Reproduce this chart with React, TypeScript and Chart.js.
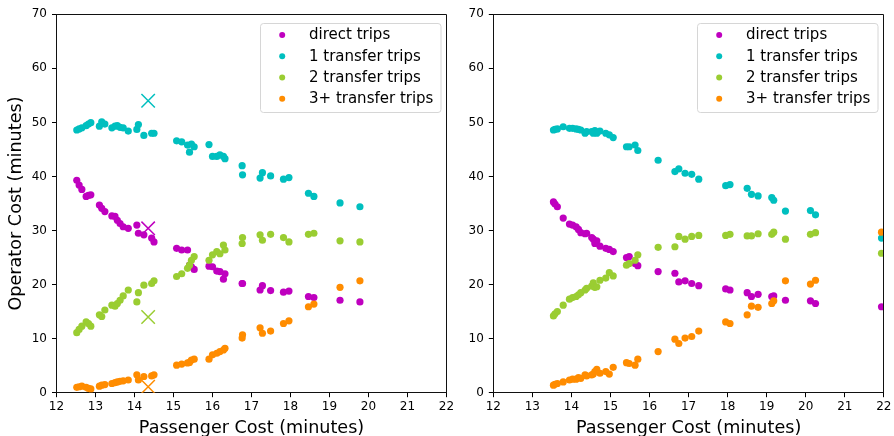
import React, { useEffect, useRef } from 'react';
import { Chart, registerables } from 'chart.js';

Chart.register(...registerables);
Chart.defaults.font.family = '"DejaVu Sans", sans-serif';

// ---------- data ----------
const SERIES_LABELS = ['direct trips', '1 transfer trips', '2 transfer trips', '3+ transfer trips'];
const SERIES_COLORS = ['#bf00bf', '#00bfbf', '#9acd32', '#ff8c00'];

const X_MIN = 12;
const X_MAX = 22;
const Y_MIN = 0;
const Y_MAX = 70;
const X_LABEL = 'Passenger Cost (minutes)';
const Y_LABEL = 'Operator Cost (minutes)';

// left panel
const leftPassenger = [
  12.52, 12.58, 12.65, 12.76, 12.82, 12.88, 13.10, 13.16, 13.24, 13.42,
  13.50, 13.56, 13.63, 13.71, 13.84, 14.06, 14.10, 14.24, 14.44, 14.50,
  15.08, 15.21, 15.36, 15.41, 15.46, 15.53, 15.91, 16.00, 16.11, 16.19,
  16.28, 16.32, 16.76, 16.77, 17.22, 17.28, 17.49, 17.82, 17.96, 18.46,
  18.60, 19.27, 19.78,
];
const leftDirect = [
  39.3, 38.4, 37.6, 36.3, 36.5, 36.6, 34.7, 34.1, 33.5, 32.7,
  32.6, 31.9, 31.3, 30.7, 30.4, 31.0, 29.5, 29.2, 28.6, 27.9,
  26.7, 26.4, 26.4, 23.6, 23.3, 22.8, 23.4, 23.3, 22.5, 22.4,
  21.0, 22.0, 20.2, 20.2, 19.0, 19.8, 18.9, 18.6, 18.8, 17.8,
  17.6, 17.1, 16.8,
];
const leftOne = [
  48.6, 48.8, 49.0, 49.4, 49.7, 49.95, 49.3, 50.1, 49.7, 49.0,
  49.3, 49.4, 49.1, 49.0, 48.4, 48.7, 49.6, 47.6, 48.0, 48.0,
  46.6, 46.4, 45.8, 44.5, 46.0, 45.5, 45.9, 43.7, 43.7, 44.0,
  43.7, 43.3, 42.0, 40.3, 39.7, 40.7, 40.1, 39.5, 39.8, 36.9,
  36.3, 35.1, 34.4,
];
const leftTwo = [
  11.1, 11.7, 12.3, 13.1, 12.8, 12.3, 14.4, 14.1, 15.3, 16.2,
  16.0, 16.5, 17.1, 17.9, 19.0, 16.8, 18.5, 19.9, 20.2, 20.7,
  21.5, 22.0, 23.0, 23.6, 24.5, 25.2, 24.5, 25.5, 26.1, 25.7,
  27.3, 26.4, 27.6, 28.7, 29.2, 28.2, 29.3, 28.7, 27.9, 29.3,
  29.5, 28.1, 27.9,
];
const leftThree = [
  1.0, 1.1, 1.2, 1.0, 0.8, 0.7, 1.2, 1.4, 1.5, 1.7,
  1.85, 2.0, 2.1, 2.2, 2.35, 3.3, 2.35, 3.0, 3.1, 3.3,
  5.1, 5.3, 5.5, 5.6, 6.05, 6.2, 6.2, 7.0, 7.3, 7.6,
  7.9, 8.2, 10.1, 10.7, 12.0, 11.0, 11.4, 12.8, 13.3, 15.9,
  16.4, 19.5, 20.7,
];
// highlighted solution (x markers) in the left panel
const leftMarkerPassenger = 14.35;
const leftMarkerValues = [30.4, 54.0, 14.0, 1.1];

// right panel
const rightPassenger = [
  13.54, 13.58, 13.64, 13.79, 13.95, 14.03, 14.12, 14.18, 14.24, 14.35,
  14.39, 14.52, 14.56, 14.60, 14.65, 14.73, 14.88, 14.97, 15.07, 15.41,
  15.48, 15.63, 15.70, 16.22, 16.65, 16.75, 16.91, 17.08, 17.26, 17.95,
  18.06, 18.50, 18.61, 18.78, 19.13, 19.18, 19.48, 20.12, 20.25, 21.94,
];
const rightDirect = [
  35.3, 34.9, 34.4, 32.3, 31.2, 31.0, 30.7, 30.2, 29.6, 29.4,
  29.5, 28.7, 28.4, 27.6, 28.1, 27.1, 26.7, 26.5, 26.1, 25.0,
  25.2, 23.9, 23.5, 22.4, 22.1, 20.5, 20.7, 20.2, 19.8, 19.2,
  19.0, 18.5, 17.8, 18.2, 17.8, 17.9, 17.1, 17.0, 16.5, 15.9,
];
const rightOne = [
  48.6, 48.7, 48.8, 49.2, 48.9, 48.9, 48.8, 48.7, 48.6, 48.0,
  48.3, 48.3, 48.0, 48.5, 48.0, 48.4, 48.0, 47.7, 47.2, 45.5,
  45.5, 45.8, 44.8, 43.0, 40.9, 41.4, 40.6, 40.4, 39.5, 38.3,
  38.5, 37.8, 36.7, 36.4, 36.1, 35.6, 33.6, 33.7, 32.9, 28.6,
];
const rightTwo = [
  14.2, 14.6, 15.0, 16.2, 17.3, 17.6, 17.8, 18.1, 18.5, 19.0,
  19.3, 19.7, 20.3, 19.5, 19.6, 20.8, 21.2, 22.2, 21.6, 23.6,
  23.9, 24.5, 25.5, 26.9, 27.0, 28.9, 28.4, 28.9, 29.1, 29.1,
  29.3, 29.0, 29.0, 29.4, 29.3, 29.7, 28.4, 29.3, 29.6, 25.8,
];
const rightThree = [
  1.4, 1.55, 1.7, 2.0, 2.35, 2.5, 2.5, 2.8, 2.65, 3.3,
  3.1, 3.3, 3.45, 3.9, 4.3, 3.6, 3.9, 3.45, 4.7, 5.55,
  5.4, 5.1, 6.2, 7.6, 9.9, 9.1, 10.1, 10.4, 11.4, 13.1,
  12.8, 14.4, 16.0, 15.8, 16.5, 17.0, 20.7, 20.1, 20.8, 29.7,
];

// ---------- helpers ----------
const toPoints = (xs: number[], ys: number[]) => xs.map((x, i) => ({ x, y: ys[i] }));

const frameLegendPlugin = {
  id: 'frameLegend',
  afterDatasetsDraw(chart: any) {
    const { ctx, chartArea } = chart;
    const a = (v: number) => Math.round(v - 0.5) + 0.5;
    ctx.save();
    ctx.strokeStyle = '#111';
    ctx.lineWidth = 1;
    ctx.beginPath();
    ctx.moveTo(a(chartArea.left), a(chartArea.top));
    ctx.lineTo(a(chartArea.right), a(chartArea.top));
    ctx.lineTo(a(chartArea.right), a(chartArea.bottom));
    ctx.stroke();
    ctx.restore();
  },
  afterDraw(chart: any) {
    const { ctx, chartArea } = chart;
    const w = 180.5;
    const h = 89;
    const x0 = Math.round(chartArea.right - 6 - w) + 0.5;
    const y0 = Math.round(chartArea.top + 8.4) + 0.5;
    const r = 3;
    ctx.save();
    ctx.beginPath();
    ctx.moveTo(x0 + r, y0);
    ctx.lineTo(x0 + w - r, y0);
    ctx.quadraticCurveTo(x0 + w, y0, x0 + w, y0 + r);
    ctx.lineTo(x0 + w, y0 + h - r);
    ctx.quadraticCurveTo(x0 + w, y0 + h, x0 + w - r, y0 + h);
    ctx.lineTo(x0 + r, y0 + h);
    ctx.quadraticCurveTo(x0, y0 + h, x0, y0 + h - r);
    ctx.lineTo(x0, y0 + r);
    ctx.quadraticCurveTo(x0, y0, x0 + r, y0);
    ctx.closePath();
    ctx.fillStyle = 'rgba(255,255,255,0.8)';
    ctx.fill();
    ctx.strokeStyle = '#d6d6d6';
    ctx.lineWidth = 1;
    ctx.stroke();
    ctx.font = '15px "DejaVu Sans", sans-serif';
    ctx.textBaseline = 'middle';
    ctx.textAlign = 'left';
    SERIES_LABELS.forEach((label, i) => {
      const cy = y0 + 11.6 + i * 21.2;
      ctx.beginPath();
      ctx.arc(x0 + 21.7, cy, 3, 0, Math.PI * 2);
      ctx.fillStyle = SERIES_COLORS[i];
      ctx.fill();
      ctx.fillStyle = '#000';
      ctx.fillText(label, x0 + 48.5, cy + 0.5);
    });
    ctx.restore();
  },
};

interface PanelProps {
  xs: number[];
  series: number[][];
  markers?: { x: number; values: number[] };
  width: number;
  yAxisWidth: number;
  padRight: number;
  showYTitle: boolean;
}

function Panel(props: PanelProps) {
  const ref = useRef<HTMLCanvasElement | null>(null);
  useEffect(() => {
    const canvas = ref.current;
    if (!canvas) return;
    const datasets: any[] = props.series.map((ys, k) => ({
      label: SERIES_LABELS[k],
      data: toPoints(props.xs, ys),
      backgroundColor: SERIES_COLORS[k],
      borderColor: SERIES_COLORS[k],
      borderWidth: 0,
      pointRadius: 3.6,
      pointHoverRadius: 3.6,
      order: 10 - k,
    }));
    if (props.markers) {
      const m = props.markers;
      m.values.forEach((v, k) => {
        datasets.push({
          label: SERIES_LABELS[k] + ' (x)',
          data: [{ x: m.x, y: v }],
          pointStyle: 'crossRot',
          pointRadius: 9.5,
          pointHoverRadius: 9.5,
          borderWidth: 1.5,
          borderColor: SERIES_COLORS[k],
          backgroundColor: SERIES_COLORS[k],
          order: 0,
        });
      });
    }
    const chart = new Chart(canvas, {
      type: 'scatter',
      data: { datasets },
      plugins: [frameLegendPlugin],
      options: {
        animation: false,
        responsive: false,
        devicePixelRatio: 1,
        events: [],
        layout: { padding: { left: 0, right: props.padRight, top: 14.3, bottom: 0 } },
        plugins: { legend: { display: false }, tooltip: { enabled: false } },
        scales: {
          x: {
            type: 'linear',
            min: X_MIN,
            max: X_MAX,
            ticks: { stepSize: 1, color: '#000', font: { size: 12 }, padding: 2.5 },
            grid: { drawOnChartArea: false, drawTicks: true, tickLength: 4.5, tickColor: '#000', tickWidth: 1 },
            border: { display: true, color: '#111', width: 1 },
            title: { display: true, text: X_LABEL, color: '#000', font: { size: 17.6, lineHeight: 0.9 }, padding: 0 },
            afterFit: (s: any) => { s.height = 43.3; },
          },
          y: {
            type: 'linear',
            min: Y_MIN,
            max: Y_MAX,
            ticks: { stepSize: 10, color: '#000', font: { size: 12 }, padding: 5 },
            grid: { drawOnChartArea: false, drawTicks: true, tickLength: 4.5, tickColor: '#000', tickWidth: 1 },
            border: { display: true, color: '#111', width: 1 },
            title: { display: props.showYTitle, text: Y_LABEL, color: '#000', font: { size: 17.6, lineHeight: 1.2 }, padding: { top: 5.5, bottom: 0 } },
            afterFit: (s: any) => { s.width = props.yAxisWidth; },
          },
        },
      } as any,
    });
    return () => chart.destroy();
  }, []);
  return <canvas ref={ref} width={props.width} height={436} style={{ display: 'block', width: props.width, height: 436 }} />;
}

export default function App() {
  return (
    <div style={{ position: 'absolute', left: 0, top: 0, width: 894, height: 436, display: 'flex', background: '#fff' }}>
      <Panel
        xs={leftPassenger}
        series={[leftDirect, leftOne, leftTwo, leftThree]}
        markers={{ x: leftMarkerPassenger, values: leftMarkerValues }}
        width={460}
        yAxisWidth={56.5}
        padRight={13.5}
        showYTitle={true}
      />
      <Panel
        xs={rightPassenger}
        series={[rightDirect, rightOne, rightTwo, rightThree]}
        width={434}
        yAxisWidth={33.3}
        padRight={10}
        showYTitle={false}
      />
    </div>
  );
}
